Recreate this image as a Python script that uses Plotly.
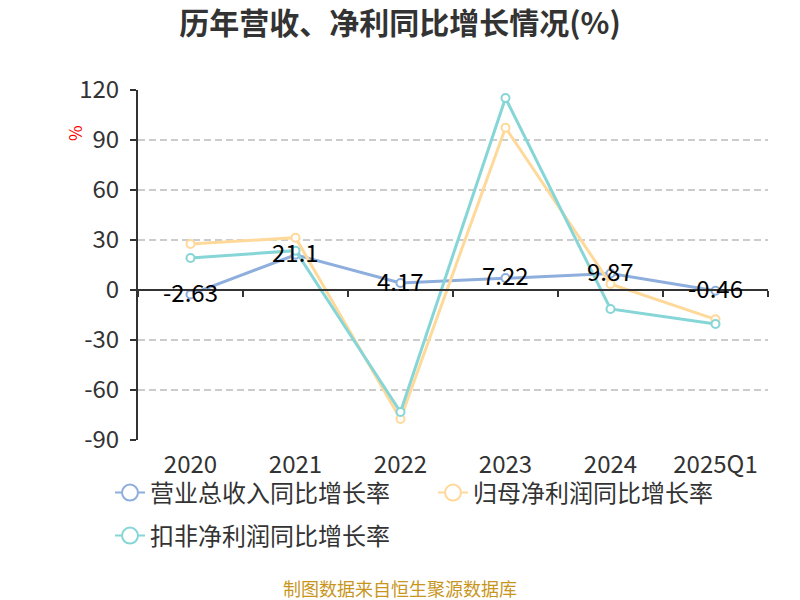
import plotly.graph_objects as go

categories = ["2020", "2021", "2022", "2023", "2024", "2025Q1"]
revenue_growth = [-2.63, 21.1, 4.17, 7.22, 9.87, -0.46]
netprofit_growth = [27.6, 31.4, -77.4, 97.4, 3.6, -17.6]
deducted_growth = [19.2, 23.6, -73.2, 115.2, -11.4, -20.4]
series_names = ["营业总收入同比增长率", "归母净利润同比增长率", "扣非净利润同比增长率"]
y_ticks = [-90, -60, -30, 0, 30, 60, 90, 120]
y_tick_labels = [str(v) for v in y_ticks]

colors = ["#8EAEDD", "#FFD99A", "#86D5D7"]
font_family = "Noto Sans CJK SC, Noto Sans, sans-serif"
legend_ids = ["legend", "legend", "legend2"]

fig = go.Figure()
for i, (name, vals, col) in enumerate(zip(series_names,
                                           [revenue_growth, netprofit_growth, deducted_growth],
                                           colors)):
    fig.add_trace(go.Scatter(
        x=categories, y=vals, name=name, showlegend=False, mode="lines+markers",
        line=dict(color=col, width=3),
        marker=dict(symbol="circle", size=8, color="white", line=dict(color=col, width=2)),
        cliponaxis=False,
    ))
    # legend-only entry with a larger symbol
    fig.add_trace(go.Scatter(
        x=[None], y=[None], name=name, mode="lines+markers", legend=legend_ids[i],
        line=dict(color=col, width=2),
        marker=dict(symbol="circle", size=16, color="white", line=dict(color=col, width=2)),
    ))

# data labels for the revenue series (category index positions)
for idx, v in enumerate(revenue_growth):
    fig.add_annotation(x=idx, y=v, xref="x", yref="y", text=f"{v:g}", showarrow=False,
                       xanchor="center", yanchor="middle", yshift=3,
                       font=dict(size=24, color="#000000", family=font_family))

# invisible trace for the zero-line axis with boundary ticks
fig.add_trace(go.Scatter(x=categories, y=[None]*6, xaxis="x2", showlegend=False, hoverinfo="skip"))

legend_common = dict(orientation="h", xanchor="left", yanchor="middle",
                     font=dict(size=24, color="#333333"), bgcolor="rgba(0,0,0,0)")

fig.update_layout(
    width=800, height=600,
    margin=dict(l=138, r=32, t=90, b=160, autoexpand=False),
    paper_bgcolor="white", plot_bgcolor="white",
    font=dict(family=font_family, color="#333333"),
    title=dict(text="<b>历年营收、净利同比增长情况(%)</b>", x=0.5, xanchor="center",
               y=1 - 23/600, yanchor="middle", font=dict(size=30, color="#333333")),
    xaxis=dict(type="category", categoryorder="array", categoryarray=categories,
               showline=False, showgrid=False, ticks="", tickfont=dict(size=24, color="#333333"),
               range=[-0.5, 5.5], zeroline=False, ticklabelstandoff=8),
    xaxis2=dict(type="category", categoryorder="array", categoryarray=categories,
                overlaying="x", anchor="free", position=90/210, side="bottom",
                showline=True, linecolor="#333333", linewidth=2,
                ticks="outside", tickson="boundaries", ticklen=6, tickcolor="#333333", tickwidth=2,
                showticklabels=False, showgrid=False, range=[-0.5, 5.5]),
    yaxis=dict(range=[-90, 120], tickvals=y_ticks, ticktext=y_tick_labels,
               showline=True, linecolor="#333333", linewidth=2,
               ticks="outside", ticklen=6, tickcolor="#333333", tickwidth=2,
               showgrid=True, gridcolor="#CCCCCC", griddash="7px,4px", gridwidth=1.5,
               zeroline=False, tickfont=dict(size=24, color="#333333"), ticklabelstandoff=6),
    legend=dict(x=(110 - 138) / 630, y=(440 - 493) / 350, entrywidth=278, **legend_common),
    legend2=dict(x=(110 - 138) / 630, y=(440 - 536) / 350, **legend_common),
)

fig.add_annotation(text="%", xref="paper", yref="paper", x=(74 - 138) / 630, y=(440 - 133) / 350,
                   xanchor="center", yanchor="middle",
                   showarrow=False, textangle=-90, font=dict(size=17, color="#FF0000"))
fig.add_annotation(text="制图数据来自恒生聚源数据库", xref="paper", yref="paper",
                   x=(400 - 138) / 630, y=(440 - 588) / 350, xanchor="center", yanchor="middle",
                   showarrow=False, font=dict(size=18, color="#C8961E"))

fig.write_html("out.html", post_script="document.body.style.margin='0';",
               config={"displayModeBar": False})
